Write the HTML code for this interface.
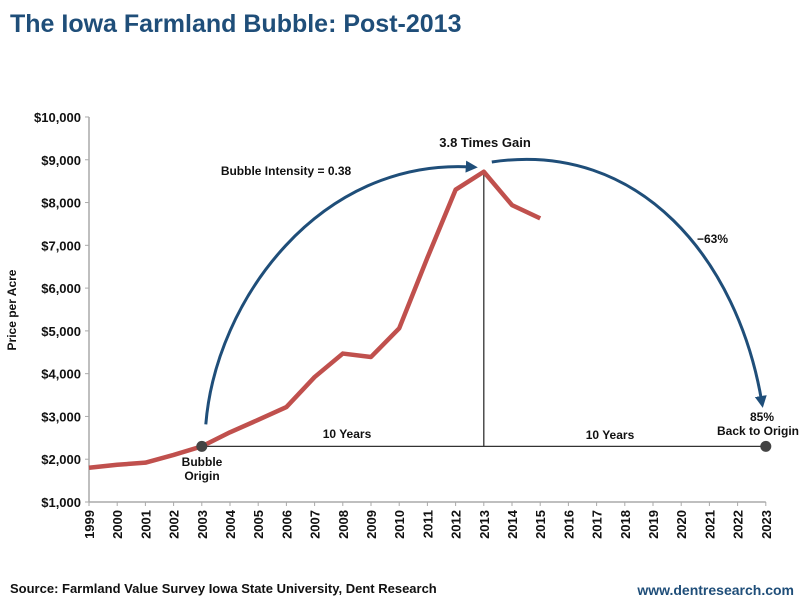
<!DOCTYPE html>
<html><head><meta charset="utf-8"><style>
body{margin:0;background:#fff;}
svg{font-family:"Liberation Sans",Arial,sans-serif;}
</style></head><body>
<svg width="800" height="600" viewBox="0 0 800 600">
<defs>
<marker id="ah" viewBox="0 0 10 10" refX="5" refY="5" markerWidth="4" markerHeight="4" orient="auto"><path d="M0,0 L10,5 L0,10 z" fill="#1f4e79"/></marker>
</defs>
<text x="10" y="32" font-size="25" font-weight="bold" fill="#1f4e79">The Iowa Farmland Bubble: Post-2013</text>
<g id="axes"></g>
<g id="marks"></g>
<text x="10" y="593" font-size="13" font-weight="bold" fill="#111">Source: Farmland Value Survey Iowa State University, Dent Research</text>
<text x="794" y="595" font-size="14" font-weight="bold" fill="#1f4e79" text-anchor="end">www.dentresearch.com</text>
</svg>
<script>
const years=['1999','2000','2001','2002','2003','2004','2005','2006','2007','2008','2009','2010','2011','2012','2013','2014','2015','2016','2017','2018','2019','2020','2021','2022','2023'];
const prices=[1800,1870,1920,2100,2300,2630,2920,3220,3920,4470,4390,5060,6710,8300,8720,7940,7630];
const yTicks=[1000,2000,3000,4000,5000,6000,7000,8000,9000,10000];
const originValue=2300;
const NS='http://www.w3.org/2000/svg';
function X(i){return 89+28.2*i;}
function Y(v){return 502-(v-1000)*0.04278;}
function mk(tag,attrs,parent,text){const e=document.createElementNS(NS,tag);for(const k in attrs)e.setAttribute(k,attrs[k]);if(text!==undefined)e.textContent=text;parent.appendChild(e);return e;}
const ax=document.getElementById('axes'),mg=document.getElementById('marks');
let e=mk('line',{x1:X(0),y1:Y(10000),x2:X(0),y2:Y(1000),stroke:'#aaa','stroke-width':1.5},ax);


e=mk('line',{x1:X(0),y1:Y(1000),x2:X(24),y2:Y(1000),stroke:'#aaa','stroke-width':1.5},ax);


yTicks.forEach(v=>{
 mk('line',{x1:X(0)-4,x2:X(0),y1:Y(v),y2:Y(v),stroke:'#aaa'},ax);
 const t=mk('text',{x:X(0)-8,y:Y(v)+5,'font-size':13,'font-weight':'bold','text-anchor':'end',fill:'#111'},ax,'$'+v.toLocaleString('en-US'));
 
 
});
years.forEach((y,i)=>{
 mk('line',{x1:X(i),x2:X(i),y1:Y(1000),y2:Y(1000)+4,stroke:'#aaa'},ax);
 const t=mk('text',{x:0,y:0,'font-size':13,'font-weight':'bold','text-anchor':'end',fill:'#111',transform:`translate(${X(i)+5},${Y(1000)+8}) rotate(-90)`},ax,y);
 
 
});
e=mk('text',{x:0,y:0,'font-size':12,'font-weight':'bold','text-anchor':'middle',fill:'#111',transform:'translate(16,310) rotate(-90)'},ax,'Price per Acre');


const oy=Y(originValue);
e=mk('line',{x1:X(4),y1:oy,x2:X(24),y2:oy,stroke:'#333','stroke-width':1.3},mg);


e=mk('line',{x1:X(14),y1:oy,x2:X(14),y2:Y(prices[14]),stroke:'#333','stroke-width':1.3},mg);


e=mk('polyline',{points:prices.map((v,i)=>X(i)+','+Y(v)).join(' '),fill:'none',stroke:'#c0504d','stroke-width':4.5,'stroke-linejoin':'round'},mg);


[4,24].forEach(i=>{const c=mk('circle',{cx:X(i),cy:oy,r:5.5,fill:'#444'},mg);
 
 });
e=mk('path',{d:`M${X(4)+4},${oy-22} C ${X(4)+14},300 320,158 ${X(14)-12},167`,fill:'none',stroke:'#1f4e79','stroke-width':3,'marker-end':'url(#ah)'},mg);


e=mk('path',{d:`M${X(14)+8},162 C 640,140 738,260 ${X(24)-4},402`,fill:'none',stroke:'#1f4e79','stroke-width':3,'marker-end':'url(#ah)'},mg);


const labels=[['Bubble Intensity = 0.38',286,175,'middle','intensity-label'],['3.8 Times Gain',485,147,'middle','gain-label'],['\u221263%',697,243,'start','decline-label'],['10 Years',347,438,'middle','ten-years-left'],['10 Years',610,439,'middle','ten-years-right'],['85%',762,421,'middle','pct-label'],['Back to Origin',799,435,'end','back-origin-label'],['Bubble',202,466,'middle','bubble-label'],['Origin',202,480,'middle','origin-label']];
labels.forEach(l=>{const t=mk('text',{x:l[1],y:l[2],'font-size':l[4]=='gain-label'?13:12,'font-weight':'bold','text-anchor':l[3],fill:'#111'},mg,l[0]);
 
 });
</script>
</body></html>
